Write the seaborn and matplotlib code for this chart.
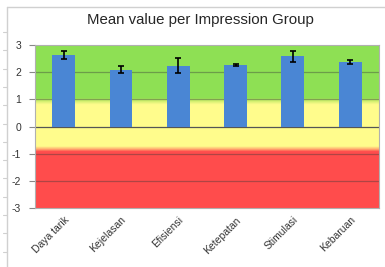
import numpy as np
import pandas as pd
import matplotlib
matplotlib.use("Agg")
import matplotlib.pyplot as plt
from matplotlib.colors import LinearSegmentedColormap
from matplotlib.lines import Line2D
import seaborn as sns

categories = ["Daya tarik", "Kejelasan", "Efisiensi", "Ketepatan", "Stimulasi", "Kebaruan"]
means = [2.63, 2.10, 2.24, 2.27, 2.59, 2.37]
errors = [0.15, 0.14, 0.27, 0.05, 0.20, 0.08]
yticks = [-3, -2, -1, 0, 1, 2, 3]
title = "Mean value per Impression Group"

sns.set_style("white")
plt.rcParams['font.family'] = ['Liberation Sans', 'DejaVu Sans']

fig = plt.figure(figsize=(3.85, 2.67), dpi=100)
ax = fig.add_axes([0.091, 0.221, 0.893, 0.610])

# background gradient
stops = [(0.0, (1.0, 0.30, 0.30)),
         ((2.08) / 6, (1.0, 0.30, 0.30)),
         ((2.15) / 6, (1.0, 0.62, 0.42)),
         ((2.27) / 6, (1.0, 0.99, 0.55)),
         ((3.82) / 6, (1.0, 0.99, 0.55)),
         ((3.95) / 6, (0.80, 0.93, 0.42)),
         ((4.06) / 6, (0.56, 0.88, 0.33)),
         (1.0, (0.56, 0.88, 0.33))]
cmap = LinearSegmentedColormap.from_list("bg", stops)
grad = np.linspace(0, 1, 600).reshape(-1, 1)
ax.imshow(grad, extent=[-0.5, 5.5, -3, 3], origin="lower", aspect="auto",
          cmap=cmap, zorder=0, interpolation="bilinear")

for yv in yticks[1:-1]:
    if yv == 0:
        ax.axhline(yv, color="#555555", lw=0.9, zorder=1)
    else:
        ax.axhline(yv, color="#3a3a3a", alpha=0.4, lw=0.9, zorder=1)

df = pd.DataFrame({"cat": categories, "mean": means})
sns.barplot(data=df, x="cat", y="mean", color="#4a86d4", saturation=1,
            width=0.4, errorbar=None, ax=ax, zorder=2, linewidth=0)
ax.errorbar(np.arange(len(categories)), means, yerr=errors, fmt="none",
            ecolor="black", elinewidth=1.2, capsize=2.5, capthick=1.2, zorder=3)

ax.set_xlim(-0.5, 5.5)
ax.set_ylim(-3, 3)
ax.set_yticks(yticks)
ax.set_yticklabels([str(v) for v in yticks], fontsize=7.5, color="#333333")
ax.set_xlabel("")
ax.set_ylabel("")
ax.set_xticks(range(len(categories)))
ax.set_xticklabels(categories, rotation=45, ha="right", rotation_mode="anchor",
                   fontsize=7.5, color="#333333")
ax.tick_params(axis="y", length=4, width=0.8, color="#888888", pad=6, left=True)
ax.tick_params(axis="x", length=0, pad=5)
for s in ax.spines.values():
    s.set_visible(True)
    s.set_color("#b0b0b0")
    s.set_linewidth(0.8)

fig.suptitle(title, fontsize=10.8, y=0.95, x=0.52)

# outer frame
fig.add_artist(Line2D([7/385, 1.0], [1 - 7/267, 1 - 7/267], color="#d0d0d0", lw=1))
fig.add_artist(Line2D([7/385, 7/385], [0, 1 - 7/267], color="#d0d0d0", lw=1))
for k in range(13):
    yy = 32 + k * 18.3
    fig.add_artist(Line2D([3/385, 7/385], [1 - yy/267, 1 - yy/267], color="#d0d0d0", lw=0.8))

fig.savefig("out.png", dpi=100)
